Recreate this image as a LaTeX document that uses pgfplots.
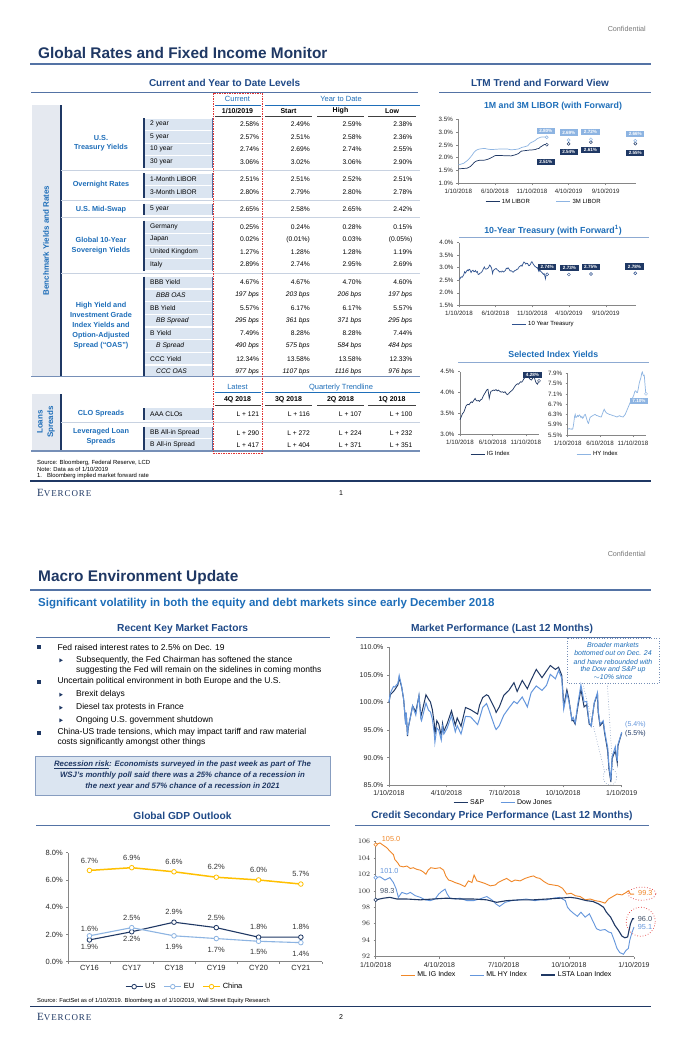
\documentclass[border=0pt]{standalone}
\usepackage{fontspec}
\setmainfont{Liberation Sans}
\newfontfamily\evfont[LetterSpace=10]{Liberation Serif}
\usepackage{pgfplots}
\pgfplotsset{compat=1.18}

\definecolor{navy}{RGB}{31,56,100}
\definecolor{hblue}{RGB}{31,73,135}
\definecolor{mblue}{RGB}{30,110,185}
\definecolor{steel}{RGB}{84,115,165}
\definecolor{lrule}{RGB}{141,170,210}
\definecolor{boxfill}{RGB}{219,229,241}
\definecolor{band}{RGB}{229,233,240}
\definecolor{sep}{RGB}{200,210,225}
\definecolor{axgray}{RGB}{134,134,134}
\definecolor{dk}{RGB}{31,56,100}
\definecolor{lt}{RGB}{141,180,226}
\definecolor{md}{RGB}{100,150,220}
\definecolor{orng}{RGB}{240,135,40}
\definecolor{gold}{RGB}{255,192,0}
\definecolor{ddash}{RGB}{225,50,50}
\definecolor{lblgray}{RGB}{68,84,106}
\definecolor{tgray}{RGB}{120,120,120}
\definecolor{ten}{RGB}{47,82,143}

\newcommand{\fs}[1]{\fontsize{#1}{#1}\selectfont}

% one table row: y, label, current, start, high, low
\newcommand{\trow}[6]{%
  \node[anchor=west] at (150,#1) {#2};
  \node[anchor=east] at (259.3,#1) {#3};
  \node[anchor=east] at (310,#1) {#4};
  \node[anchor=east] at (361.7,#1) {#5};
  \node[anchor=east] at (412.5,#1) {#6};}
\newcommand{\trowi}[6]{%
  \node[anchor=west] at (156,#1) {\itshape #2};
  \node[anchor=east] at (259.3,#1) {\itshape #3};
  \node[anchor=east] at (310,#1) {\itshape #4};
  \node[anchor=east] at (361.7,#1) {\itshape #5};
  \node[anchor=east] at (412.5,#1) {\itshape #6};}

\pgfplotsset{
  ev/.style={
    scale only axis, clip=false,
    axis lines*=left,
    axis line style={-, draw=axgray, line width=0.5pt},
    tick style={draw=axgray, line width=0.5pt},
    major tick length=2pt, tick align=outside,
    tick label style={text=black!85},
    legend style={draw=none, fill=none},
    legend cell align=left,
  },
  shortleg/.style={legend image code/.code={\draw[##1] (0pt,0pt) -- (14pt,0pt);}},
}

\begin{document}
\begin{tikzpicture}[x=1pt,y=-1pt]
\fill[white] (0,0) rectangle (680,1050);
\useasboundingbox (0,0) rectangle (680,1050);

% ================= PAGE 1 =================
\begin{scope}[every node/.style={inner sep=0pt}]
\node[anchor=east, text=tgray, font={\fs{7.2}}] at (646,29) {Confidential};
\node[anchor=west, text=navy, font={\bfseries\fs{15.4}}] at (38,52.7) {Global Rates and Fixed Income Monitor};
\draw[steel, line width=2pt] (30,64.3) -- (651,64.3);
\node[text=hblue, font={\bfseries\fs{10}}] at (224.6,83.3) {Current and Year to Date Levels};
\node[text=hblue, font={\bfseries\fs{10}}] at (540,83.3) {LTM Trend and Forward View};
\draw[steel, line width=1pt] (31,92.3) -- (418,92.3);
\draw[steel, line width=1pt] (439,92.3) -- (651,92.3);

% side bands
\fill[band] (32,105) rectangle (60,376);
\fill[band] (32,394) rectangle (60,450);
\draw[navy, line width=1.6pt] (61,105) -- (61,376);
\draw[navy, line width=1.6pt] (61,394) -- (61,450);
\node[rotate=90, text=mblue, font={\bfseries\fs{8}}] at (46,240.5) {Benchmark Yields and Rates};
\node[rotate=90, text=mblue, font={\bfseries\fs{8}}] at (40,422) {Loans};
\node[rotate=90, text=mblue, font={\bfseries\fs{8}}] at (51,422) {Spreads};

% label boxes
\foreach \y in {124.3,136.8,149.3,161.8,179.3,191.8,209.3,226.8,239.3,251.8,264.3,282.5,295.2,307.9,320.6,333.3,346,358.7,371.4,414,432.7,445}
  {\fill[boxfill] (144,\y-5.7) rectangle (212,\y+5.7);}
\foreach \a/\b in {118/168,173/198,203.5/215,220.5/270.5,276.5/375.5,408/420,426.5/451}
  {\draw[navy, line width=2pt] (144.3,\a) -- (144.3,\b);
   \draw[steel, line width=0.8pt] (212,\a) -- (212,\b);}

% separators
\foreach \y in {170.5,200.5,217.8,273.3,422.5}
  {\draw[sep, line width=0.8pt] (61,\y) -- (420,\y);}
\draw[steel!80, line width=1.5pt] (31,376.3) -- (420,376.3);
\draw[steel!80, line width=1.5pt] (31,451) -- (420,451);

% headers
\node[text=mblue, font={\fs{7.5}}] at (237.5,99) {Current};
\node[text=mblue, font={\fs{7.5}}] at (341,99) {Year to Date};
\draw[mblue, line width=0.6pt] (215,105.7) -- (260.5,105.7);
\draw[mblue, line width=0.6pt] (265,105.7) -- (420,105.7);
\begin{scope}[font={\bfseries\fs{7}}]
\node at (237.5,111) {1/10/2019};
\node at (288.5,111) {Start};
\node at (340.5,111) {High};
\node at (392,111) {Low};
\end{scope}
\foreach \a/\b in {215/260.5,265/312,317/364,368/416}
  {\draw[black!75, line width=1pt] (\a,116.7) -- (\b,116.7);}

% group labels
\begin{scope}[text=mblue, font={\bfseries\fs{7.3}}]
\node at (101,137.7) {U.S.};
\node at (101,147.7) {Treasury Yields};
\node at (101,185) {Overnight Rates};
\node at (101,209.3) {U.S. Mid-Swap};
\node at (101,240) {Global 10-Year};
\node at (101,250.3) {Sovereign Yields};
\node at (101,305.3) {High Yield and};
\node at (101,315.3) {Investment Grade};
\node at (101,325.3) {Index Yields and};
\node at (101,335.3) {Option-Adjusted};
\node at (101,345.3) {Spread (``OAS'')};
\node at (101,413.7) {CLO Spreads};
\node at (101,432) {Leveraged Loan};
\node at (101,442) {Spreads};
\end{scope}

% values
\begin{scope}[font={\fs{6.7}}]
\trow{124.3}{2 year}{2.58\%}{2.49\%}{2.59\%}{2.38\%}
\trow{136.8}{5 year}{2.57\%}{2.51\%}{2.58\%}{2.36\%}
\trow{149.3}{10 year}{2.74\%}{2.69\%}{2.74\%}{2.55\%}
\trow{161.8}{30 year}{3.06\%}{3.02\%}{3.06\%}{2.90\%}
\trow{179.3}{1-Month LIBOR}{2.51\%}{2.51\%}{2.52\%}{2.51\%}
\trow{191.8}{3-Month LIBOR}{2.80\%}{2.79\%}{2.80\%}{2.78\%}
\trow{209.3}{5 year}{2.65\%}{2.58\%}{2.65\%}{2.42\%}
\trow{226.8}{Germany}{0.25\%}{0.24\%}{0.28\%}{0.15\%}
\trow{239.3}{Japan}{0.02\%}{(0.01\%)}{0.03\%}{(0.05\%)}
\trow{251.8}{United Kingdom}{1.27\%}{1.28\%}{1.28\%}{1.19\%}
\trow{264.3}{Italy}{2.89\%}{2.74\%}{2.95\%}{2.69\%}
\trow{282.5}{BBB Yield}{4.67\%}{4.67\%}{4.70\%}{4.60\%}
\trowi{295.2}{BBB OAS}{197 bps}{203 bps}{206 bps}{197 bps}
\trow{307.9}{BB Yield}{5.57\%}{6.17\%}{6.17\%}{5.57\%}
\trowi{320.6}{BB Spread}{295 bps}{361 bps}{371 bps}{295 bps}
\trow{333.3}{B Yield}{7.49\%}{8.28\%}{8.28\%}{7.44\%}
\trowi{346}{B Spread}{490 bps}{575 bps}{584 bps}{484 bps}
\trow{358.7}{CCC Yield}{12.34\%}{13.58\%}{13.58\%}{12.33\%}
\trowi{371.4}{CCC OAS}{977 bps}{1107 bps}{1116 bps}{976 bps}
\trow{414}{AAA CLOs}{L + 121}{L + 116}{L + 107}{L + 100}
\trow{432.7}{BB All-in Spread}{L + 290}{L + 272}{L + 224}{L + 232}
\trow{445}{B All-in Spread}{L + 417}{L + 404}{L + 371}{L + 351}
\end{scope}

% loans headers
\node[text=mblue, font={\fs{7.5}}] at (237.5,387.3) {Latest};
\node[text=mblue, font={\fs{7.5}}] at (341,387.3) {Quarterly Trendline};
\draw[mblue, line width=0.6pt] (215,392) -- (260.5,392);
\draw[mblue, line width=0.6pt] (265,392) -- (420,392);
\begin{scope}[font={\bfseries\fs{7}}]
\node at (237.5,400) {4Q 2018};
\node at (288.5,400) {3Q 2018};
\node at (340.5,400) {2Q 2018};
\node at (392,400) {1Q 2018};
\end{scope}
\foreach \a/\b in {215/260.5,265/312,317/364,368/416}
  {\draw[black!75, line width=1pt] (\a,405.3) -- (\b,405.3);}

% red dashed column box
\draw[ddash, line width=0.6pt, dash pattern=on 1.5pt off 1pt] (213,93.3) rectangle (262,453.3);

% sources
\begin{scope}[font={\fs{5.9}}]
\node[anchor=west] at (37,463.3) {Source: Bloomberg, Federal Reserve, LCD};
\node[anchor=west] at (37,469.5) {Note: Data as of 1/10/2019};
\node[anchor=west] at (37,475.7) {1.};
\node[anchor=west] at (47,475.7) {Bloomberg implied market forward rate};
\end{scope}
\draw[navy, line width=1.5pt] (30,481) -- (651,481);
\node[anchor=west, text=navy] at (37,493.3) {\evfont\fs{11}E\fs{9}VERCORE};
\node[font={\fs{7}}] at (341,493.3) {1};

% chart titles
\node[text=mblue, font={\bfseries\fs{8.8}}] at (553,106.7) {1M and 3M LIBOR (with Forward)};
\node[text=mblue, font={\bfseries\fs{8.8}}] at (553,230) {10-Year Treasury (with Forward\textsuperscript{1})};
\draw[lrule, line width=1pt] (459,237.7) -- (649,237.7);
\node[text=mblue, font={\bfseries\fs{8.8}}] at (553.3,354.3) {Selected Index Yields};
\draw[lrule, line width=1pt] (458,362.3) -- (649,362.3);
\end{scope}

% ---------- LIBOR chart ----------
\begin{axis}[ev, shortleg, at={(458.3pt,-183.3pt)}, anchor=south west, width=177.7pt, height=64pt,
  xmin=0, xmax=733, ymin=1, ymax=3.5,
  xtick={0,151,304,455,608}, xticklabels={1/10/2018,6/10/2018,11/10/2018,4/10/2019,9/10/2019},
  ytick={1,1.5,2,2.5,3,3.5}, yticklabels={1.0\%,1.5\%,2.0\%,2.5\%,3.0\%,3.5\%},
  tick label style={font={\fs{6.2}}},
  legend style={at={(0.482,-0.2875)}, anchor=center, font={\fs{6}}, legend columns=2,
    /tikz/every even column/.append style={column sep=24pt}},
]
\addplot[dk, line width=0.7pt] coordinates {(0,1.56)(8,1.57)(22,1.58)(36,1.59)(43,1.62)(50,1.66)(57,1.72)(64,1.80)(71,1.85)(78,1.88)(88,1.90)(95,1.90)(104,1.90)(111,1.91)(118,1.93)(125,1.95)(132,1.98)(142,2.03)(149,2.07)(156,2.09)(165,2.09)(172,2.09)(186,2.08)(203,2.08)(217,2.07)(234,2.11)(248,2.16)(255,2.22)(261,2.26)(270,2.27)(278,2.28)(287,2.29)(295,2.30)(302,2.30)(309,2.31)(318,2.32)(325,2.35)(332,2.36)(339,2.42)(346,2.46)(352,2.50)(358,2.52)(365,2.51)};
\addplot[lt, line width=0.7pt] coordinates {(0,1.72)(8,1.74)(15,1.76)(22,1.78)(29,1.83)(36,1.88)(43,1.94)(50,2.02)(57,2.10)(64,2.20)(71,2.27)(78,2.31)(88,2.34)(95,2.35)(104,2.36)(111,2.36)(118,2.34)(125,2.33)(135,2.32)(142,2.32)(156,2.33)(172,2.34)(186,2.34)(203,2.34)(217,2.31)(234,2.32)(248,2.34)(255,2.37)(261,2.40)(270,2.42)(278,2.44)(287,2.47)(295,2.56)(302,2.60)(309,2.63)(318,2.68)(325,2.74)(332,2.77)(339,2.80)(346,2.81)(355,2.81)(365,2.80)};
\legend{1M LIBOR,3M LIBOR}
\addplot[forget plot, only marks, mark=*, mark size=1.5pt, mark options={draw=dk, fill=white, line width=0.5pt}] coordinates {(365,2.51)(455,2.54)(547,2.61)(730,2.55)};
\addplot[forget plot, only marks, mark=*, mark size=1.5pt, mark options={draw=lt, fill=white, line width=0.5pt}] coordinates {(365,2.80)(455,2.69)(547,2.72)(730,2.66)};
\end{axis}

% ---------- 10Y chart ----------
\begin{axis}[ev, shortleg, at={(459pt,-305.3pt)}, anchor=south west, width=177pt, height=62.6pt,
  xmin=0, xmax=733, ymin=1.5, ymax=4,
  xtick={0,151,304,455,608}, xticklabels={1/10/2018,6/10/2018,11/10/2018,4/10/2019,9/10/2019},
  ytick={1.5,2,2.5,3,3.5,4}, yticklabels={1.5\%,2.0\%,2.5\%,3.0\%,3.5\%,4.0\%},
  tick label style={font={\fs{6.2}}},
  legend style={at={(0.478,-0.299)}, anchor=center, font={\fs{6}}},
]
\addplot[ten, line width=0.7pt] coordinates {(0,2.55)(3,2.54)(6,2.59)(9,2.64)(13,2.62)(16,2.66)(20,2.73)(23,2.84)(27,2.79)(30,2.85)(35,2.91)(38,2.88)(42,2.94)(45,2.92)(50,2.81)(54,2.88)(58,2.90)(62,2.84)(65,2.85)(68,2.89)(72,2.82)(76,2.85)(79,2.74)(82,2.73)(86,2.78)(90,2.79)(93,2.82)(97,2.87)(101,2.96)(105,3.03)(109,2.95)(114,2.95)(118,2.97)(122,3.00)(127,3.11)(131,3.06)(135,2.98)(139,2.77)(142,2.89)(146,2.93)(151,2.96)(154,2.97)(158,2.92)(163,2.89)(167,2.83)(170,2.85)(175,2.83)(179,2.87)(184,2.83)(188,2.86)(192,2.89)(196,2.98)(200,2.96)(203,3.00)(207,2.95)(212,2.87)(216,2.88)(219,2.86)(224,2.82)(228,2.86)(231,2.89)(236,2.90)(240,2.94)(243,2.94)(247,3.00)(250,3.05)(254,3.07)(258,3.10)(261,3.06)(265,3.16)(269,3.23)(272,3.21)(276,3.15)(280,3.18)(284,3.17)(289,3.08)(292,3.09)(296,3.14)(299,3.21)(302,3.24)(306,3.17)(310,3.11)(314,3.06)(317,3.04)(321,3.00)(324,3.01)(328,2.92)(331,2.85)(335,2.91)(338,2.86)(342,2.82)(345,2.79)(349,2.74)(352,2.77)(355,2.69)(358,2.56)(360,2.67)(363,2.73)(365,2.74)};
\legend{10 Year Treasury}
\addplot[forget plot, only marks, mark=*, mark size=1.5pt, mark options={draw=ten, fill=white, line width=0.5pt}] coordinates {(365,2.74)(455,2.73)(547,2.75)(730,2.78)};
\end{axis}

% ---------- IG chart ----------
\begin{axis}[ev, shortleg, at={(460pt,-434.3pt)}, anchor=south west, width=79pt, height=62.6pt,
  xmin=0, xmax=365, ymin=3, ymax=4.5,
  xtick={0,151,304}, xticklabels={1/10/2018,6/10/2018,11/10/2018},
  ytick={3,3.5,4,4.5}, yticklabels={3.0\%,3.5\%,4.0\%,4.5\%},
  tick label style={font={\fs{6.2}}},
  legend style={at={(0.392,-0.315)}, anchor=center, font={\fs{6}}},
]
\addplot[dk, line width=0.7pt] coordinates {(0,3.35)(4,3.40)(8,3.45)(12,3.50)(16,3.52)(19,3.55)(24,3.62)(28,3.68)(31,3.70)(36,3.72)(42,3.71)(46,3.74)(52,3.78)(57,3.76)(62,3.80)(66,3.83)(70,3.86)(74,3.82)(79,3.80)(85,3.81)(90,3.79)(96,3.83)(101,3.84)(106,3.90)(112,3.96)(117,4.00)(121,4.04)(125,4.07)(129,4.08)(132,3.98)(135,3.86)(139,3.96)(143,4.03)(148,4.04)(154,4.06)(160,4.05)(166,4.07)(172,4.04)(178,4.06)(184,4.03)(190,4.01)(196,4.02)(202,4.00)(208,4.02)(213,3.98)(218,3.95)(224,3.97)(229,4.00)(235,4.03)(240,4.05)(245,4.08)(250,4.12)(255,4.16)(260,4.19)(265,4.21)(270,4.20)(275,4.23)(280,4.26)(285,4.25)(290,4.28)(295,4.33)(300,4.36)(305,4.40)(310,4.45)(314,4.40)(318,4.36)(322,4.33)(326,4.31)(330,4.30)(334,4.33)(338,4.36)(342,4.38)(346,4.32)(350,4.25)(354,4.22)(358,4.20)(361,4.24)(365,4.28)};
\legend{IG Index}
\addplot[forget plot, only marks, mark=*, mark size=1.5pt, mark options={draw=dk, fill=white, line width=0.5pt}] coordinates {(365,4.28)};
\end{axis}

% ---------- HY chart ----------
\begin{axis}[ev, shortleg, at={(567.7pt,-435pt)}, anchor=south west, width=78.3pt, height=61.7pt,
  xmin=0, xmax=365, ymin=5.5, ymax=7.9,
  xtick={0,151,304}, xticklabels={1/10/2018,6/10/2018,11/10/2018},
  ytick={5.5,5.9,6.3,6.7,7.1,7.5,7.9}, yticklabels={5.5\%,5.9\%,6.3\%,6.7\%,7.1\%,7.5\%,7.9\%},
  tick label style={font={\fs{6.2}}},
  legend style={at={(0.387,-0.308)}, anchor=center, font={\fs{6}}},
]
\addplot[lt, line width=0.7pt] coordinates {(0,5.72)(4,5.74)(8,5.75)(12,5.73)(16,5.74)(20,5.72)(24,5.75)(28,5.95)(32,6.22)(35,6.30)(38,6.18)(42,6.20)(46,6.26)(50,6.22)(54,6.28)(58,6.25)(62,6.18)(66,6.22)(70,6.15)(74,6.20)(78,6.28)(82,6.30)(86,6.20)(90,6.08)(94,5.98)(97,5.95)(100,6.05)(104,6.18)(110,6.22)(116,6.25)(122,6.28)(128,6.30)(134,6.26)(140,6.25)(146,6.22)(152,6.21)(156,6.20)(160,6.28)(165,6.40)(170,6.50)(174,6.44)(178,6.38)(182,6.35)(188,6.33)(194,6.30)(200,6.29)(206,6.27)(212,6.25)(218,6.24)(224,6.22)(230,6.20)(236,6.23)(242,6.25)(248,6.22)(254,6.21)(258,6.20)(263,6.25)(268,6.30)(273,6.40)(278,6.50)(283,6.60)(288,6.70)(293,6.80)(298,6.90)(303,6.95)(308,7.05)(313,7.20)(317,7.22)(321,7.16)(325,7.15)(329,7.30)(333,7.50)(337,7.62)(341,7.72)(345,7.90)(348,7.95)(351,7.85)(354,7.80)(357,7.82)(360,7.50)(363,7.20)(365,7.10)};
\legend{HY Index}
\addplot[forget plot, only marks, mark=*, mark size=1.5pt, mark options={draw=lt, fill=white, line width=0.5pt}] coordinates {(365,7.10)};
\end{axis}

% value boxes on the LTM charts
\begin{scope}[every node/.style={inner sep=0pt, minimum width=18.3pt, minimum height=6.3pt, text=white, font={\bfseries\fs{4.6}}}]
\node[fill=lt] at (545.8,130.8) {2.80\%};
\node[fill=lt] at (568.8,132.5) {2.69\%};
\node[fill=lt] at (590.5,131.7) {2.72\%};
\node[fill=lt] at (635.3,133.7) {2.66\%};
\node[fill=dk] at (545.8,161.7) {2.51\%};
\node[fill=dk] at (568.8,152.2) {2.54\%};
\node[fill=dk] at (590.5,150.3) {2.61\%};
\node[fill=dk] at (635.3,152.7) {2.55\%};
\node[fill=dk] at (547.2,267.2) {2.74\%};
\node[fill=dk] at (569.5,267.8) {2.73\%};
\node[fill=dk] at (590.7,267.3) {2.75\%};
\node[fill=dk] at (634.5,266.5) {2.78\%};
\node[fill=dk] at (532.5,375.3) {4.28\%};
\node[fill=lt] at (639,400.7) {7.10\%};
\end{scope}

% ================= PAGE 2 =================
\begin{scope}[every node/.style={inner sep=0pt}]
\node[anchor=east, text=tgray, font={\fs{7.2}}] at (646,554) {Confidential};
\node[anchor=west, text=navy, font={\bfseries\fs{15.4}}] at (38,577.7) {Macro Environment Update};
\draw[steel, line width=2pt] (30,590) -- (651,590);
\node[anchor=west, text=mblue, font={\bfseries\fs{11.5}}] at (38,603.3) {Significant volatility in both the equity and debt markets since early December 2018};
\node[text=hblue, font={\bfseries\fs{10.2}}] at (182.7,629.3) {Recent Key Market Factors};
\node[text=hblue, font={\bfseries\fs{10.2}}] at (502,629.3) {Market Performance (Last 12 Months)};
\draw[steel, line width=1pt] (36,637.5) -- (330,637.5);
\draw[steel, line width=1pt] (356,637.5) -- (651,637.5);

% bullets
\foreach \y in {647.3,681.7,732.7}
  {\fill[navy] (37.3,\y-2) rectangle (41.3,\y+2);}
\foreach \y in {660.3,694.7,707.7,720.3}
  {\fill[navy] (59.3,\y-2) -- (62.8,\y) -- (59.3,\y+2) -- cycle;}
\begin{scope}[font={\fs{8.5}}]
\node[anchor=west] at (57.3,647.3) {Fed raised interest rates to 2.5\% on Dec. 19};
\node[anchor=west] at (76,660.3) {Subsequently, the Fed Chairman has softened the stance};
\node[anchor=west] at (76,670) {suggesting the Fed will remain on the sidelines in coming months};
\node[anchor=west] at (57.3,681.7) {Uncertain political environment in both Europe and the U.S.};
\node[anchor=west] at (76,694.7) {Brexit delays};
\node[anchor=west] at (76,707.7) {Diesel tax protests in France};
\node[anchor=west] at (76,720.3) {Ongoing U.S. government shutdown};
\node[anchor=west] at (57.3,732.7) {China-US trade tensions, which may impact tariff and raw material};
\node[anchor=west] at (57.3,742.3) {costs significantly amongst other things};
\end{scope}

% recession box
\fill[boxfill] (35,756) rectangle (330,795);
\draw[steel!70, line width=0.6pt] (35,756) rectangle (330,795);
\begin{scope}[text=navy, font={\bfseries\itshape\fs{7.8}}]
\node at (182.5,764.5) {\underline{Recession risk}: Economists surveyed in the past week as part of The};
\node at (182.5,775.5) {WSJ's monthly poll said there was a 25\% chance of a recession in};
\node at (182.5,786.5) {the next year and 57\% chance of a recession in 2021};
\end{scope}

% annotation in market chart
\draw[steel!80, line width=0.6pt, dotted] (567,638) rectangle (659,683.3);
\begin{scope}[text=mblue, font={\itshape\fs{7}}]
\node at (613,645) {Broader markets};
\node at (613,653.3) {bottomed out on Dec. 24};
\node at (613,661.6) {and have rebounded with};
\node at (613,669.5) {the Dow and S\&P up};
\node at (613,677.4) {$\sim$10\% since};
\end{scope}
\draw[steel!80, line width=0.6pt, dotted] (582.7,683.3) -- (605,773.3);
\draw[steel!80, line width=0.6pt, dotted] (607.3,683.3) -- (612.7,769.3);
\draw[steel!80, line width=0.6pt, dotted] (610,776.7) ellipse (6.7pt and 8.5pt);
\node[anchor=west, text=md, font={\fs{7}}] at (625,725) {(5.4\%)};
\node[anchor=west, text=dk, font={\fs{7}}] at (625,733.3) {(5.5\%)};

\node[text=hblue, font={\bfseries\fs{10.2}}] at (182.5,816) {Global GDP Outlook};
\node[text=hblue, font={\bfseries\fs{10.2}}] at (502,816) {Credit Secondary Price Performance (Last 12 Months)};
\draw[steel, line width=1pt] (36,825) -- (330,825);
\draw[steel, line width=1pt] (355,825) -- (649,825);

\node[anchor=west, font={\fs{5.8}}] at (37,1000.7) {Source: FactSet as of 1/10/2019. Bloomberg as of 1/10/2019, Wall Street Equity Research};
\draw[navy, line width=1.5pt] (30,1006.5) -- (651,1006.5);
\node[anchor=west, text=navy] at (37,1017) {\evfont\fs{11}E\fs{9}VERCORE};
\node[font={\fs{7}}] at (341,1017) {2};

% credit labels
\begin{scope}[font={\fs{7.3}}]
\node[anchor=west, text=orng] at (381.7,839.3) {105.0};
\node[anchor=west, text=md] at (380,871) {101.0};
\node[anchor=west, text=lblgray] at (380,891) {98.3};
\node[anchor=west, text=orng] at (638,893.3) {99.3};
\node[anchor=west, text=lblgray] at (637.7,919) {96.0};
\node[anchor=west, text=md] at (637.7,926.7) {95.1};
\end{scope}
\draw[ddash, line width=0.7pt, dotted] (642,893.7) ellipse (14pt and 6.5pt);
\draw[ddash, line width=0.7pt, dotted] (640.7,921.7) ellipse (14.5pt and 14.5pt);
\end{scope}

% ---------- Market performance ----------
\begin{axis}[ev, shortleg, at={(389pt,-785.3pt)}, anchor=south west, width=232.7pt, height=138pt,
  xmin=0, xmax=365, ymin=85, ymax=110,
  xtick={0,90,181,273,365}, xticklabels={1/10/2018,4/10/2018,7/10/2018,10/10/2018,1/10/2019},
  ytick={85,90,95,100,105,110}, yticklabels={85.0\%,90.0\%,95.0\%,100.0\%,105.0\%,110.0\%},
  tick label style={font={\fs{7}}},
  legend style={at={(0.492,-0.128)}, anchor=center, font={\fs{7}}, legend columns=2,
    /tikz/every even column/.append style={column sep=14pt}},
]
\addplot[dk, line width=1pt] coordinates {(0,100.0)(2,101.4)(7,102.0)(9,102.3)(14,103.2)(16,104.5)(20,102.7)(23,100.5)(26,96.4)(27,98.1)(29,93.9)(30,95.3)(35,98.2)(37,99.4)(42,98.3)(47,101.2)(50,97.5)(51,97.9)(58,101.4)(62,100.6)(65,100.1)(68,98.7)(71,96.2)(72,94.2)(75,96.7)(78,96.1)(82,94.0)(84,96.2)(86,94.8)(91,96.1)(98,98.5)(104,95.9)(107,97.2)(113,95.7)(120,99.1)(128,98.7)(139,97.9)(142,99.5)(147,100.9)(153,101.4)(156,101.2)(166,98.9)(168,98.2)(173,99.2)(180,101.3)(188,102.2)(196,103.6)(201,102.0)(209,104.0)(217,102.5)(223,104.1)(231,106.0)(240,104.5)(247,105.7)(253,106.7)(261,106.0)(266,106.4)(271,104.9)(273,101.4)(274,99.3)(279,102.3)(282,100.7)(287,96.7)(289,96.8)(292,96.1)(296,99.1)(301,102.4)(306,99.2)(310,99.6)(314,96.1)(317,95.8)(322,99.9)(327,101.5)(328,98.3)(331,95.8)(336,96.5)(338,94.6)(341,92.6)(343,91.2)(345,88.0)(348,85.6)(350,89.8)(352,90.5)(355,91.2)(358,89.1)(359,92.1)(363,93.7)(365,94.5)};
\addplot[md, line width=1pt] coordinates {(0,100.0)(2,101.7)(7,102.9)(9,102.8)(14,103.5)(16,104.9)(20,102.8)(23,100.6)(26,96.0)(27,98.2)(29,94.1)(30,95.4)(35,98.1)(37,99.4)(42,97.7)(47,101.3)(50,97.0)(51,96.7)(58,99.9)(62,98.6)(65,98.3)(68,97.0)(71,94.4)(72,92.8)(75,95.4)(78,95.0)(82,93.2)(84,95.6)(86,94.3)(91,95.3)(98,97.6)(104,94.7)(107,95.8)(113,94.3)(120,97.5)(128,97.4)(139,96.0)(142,97.1)(147,99.1)(153,99.8)(156,98.9)(166,95.6)(168,95.1)(173,95.8)(180,97.7)(188,99.0)(196,100.2)(201,99.8)(209,101.0)(217,99.2)(223,101.8)(231,103.0)(240,102.2)(247,103.1)(253,105.1)(261,104.3)(266,105.8)(271,104.4)(273,100.9)(274,98.8)(279,101.7)(282,100.3)(287,96.9)(289,97.3)(292,96.3)(296,99.6)(301,103.2)(306,100.1)(310,100.2)(314,96.4)(317,95.7)(322,100.0)(327,101.8)(328,98.7)(331,96.1)(336,96.7)(338,95.0)(341,93.0)(343,91.9)(345,88.5)(348,85.9)(350,90.2)(352,90.9)(355,92.0)(358,89.4)(359,92.4)(363,93.8)(365,94.6)};
\legend{S\&P,Dow Jones}
\end{axis}

% ---------- GDP ----------
\begin{axis}[ev, at={(68.3pt,-961.7pt)}, anchor=south west, width=253.7pt, height=109pt,
  xmin=-0.5, xmax=5.5, ymin=0, ymax=8,
  xtick={-0.5,0.5,1.5,2.5,3.5,4.5,5.5}, xticklabels={},
  extra x ticks={0,1,2,3,4,5}, extra x tick labels={CY16,CY17,CY18,CY19,CY20,CY21},
  extra x tick style={major tick length=0pt},
  ytick={0,2,4,6,8}, yticklabels={0.0\%,2.0\%,4.0\%,6.0\%,8.0\%},
  tick label style={font={\fs{7.5}}},
  legend style={at={(0.459,-0.229)}, anchor=center, font={\fs{7.5}}, legend columns=3,
    /tikz/every even column/.append style={column sep=6pt}},
]
\addplot[dk, line width=1.1pt, mark=*, mark size=2.3pt, mark options={fill=white, line width=0.8pt}] coordinates {(0,1.6)(1,2.2)(2,2.9)(3,2.5)(4,1.8)(5,1.8)};
\addplot[lt, line width=1.1pt, mark=*, mark size=2.3pt, mark options={fill=white, line width=0.8pt}] coordinates {(0,1.9)(1,2.5)(2,1.9)(3,1.7)(4,1.5)(5,1.4)};
\addplot[gold, line width=1.5pt, mark=*, mark size=2.3pt, mark options={fill=white, line width=0.8pt}] coordinates {(0,6.7)(1,6.9)(2,6.6)(3,6.2)(4,6.0)(5,5.7)};
\legend{US,EU,China}
\begin{scope}[every node/.style={font={\fs{7.5}}, text=black!80, inner sep=0pt}]
\node[yshift=10pt] at (axis cs:0,6.7) {6.7\%};
\node[yshift=10pt] at (axis cs:1,6.9) {6.9\%};
\node[yshift=10pt] at (axis cs:2,6.6) {6.6\%};
\node[yshift=10pt] at (axis cs:3,6.2) {6.2\%};
\node[yshift=10pt] at (axis cs:4,6.0) {6.0\%};
\node[yshift=10pt] at (axis cs:5,5.7) {5.7\%};
\node[yshift=11pt] at (axis cs:0,1.6) {1.6\%};
\node[yshift=-7pt] at (axis cs:1,2.2) {2.2\%};
\node[yshift=10.5pt] at (axis cs:2,2.9) {2.9\%};
\node[yshift=10pt] at (axis cs:3,2.5) {2.5\%};
\node[yshift=10pt] at (axis cs:4,1.8) {1.8\%};
\node[yshift=10pt] at (axis cs:5,1.8) {1.8\%};
\node[yshift=-11pt] at (axis cs:0,1.9) {1.9\%};
\node[yshift=10pt] at (axis cs:1,2.5) {2.5\%};
\node[yshift=-10.7pt] at (axis cs:2,1.9) {1.9\%};
\node[yshift=-11pt] at (axis cs:3,1.7) {1.7\%};
\node[yshift=-11pt] at (axis cs:4,1.5) {1.5\%};
\node[yshift=-11pt] at (axis cs:5,1.4) {1.4\%};
\end{scope}
\end{axis}

% ---------- Credit secondary ----------
\begin{axis}[ev, shortleg, at={(375.7pt,-956.7pt)}, anchor=south west, width=258.3pt, height=115.4pt,
  xmin=0, xmax=365, ymin=92, ymax=106,
  xtick={0,90,181,273,365}, xticklabels={1/10/2018,4/10/2018,7/10/2018,10/10/2018,1/10/2019},
  ytick={92,94,...,106},
  tick label style={font={\fs{7}}},
  legend style={at={(0.508,-0.1586)}, anchor=center, font={\fs{7}}, legend columns=3,
    /tikz/every even column/.append style={column sep=12pt}},
]
\addplot[orng, line width=0.9pt] coordinates {(0,105.6)(6,105.8)(11,105.5)(16,105.2)(20,104.8)(25,104.4)(27,103.8)(31,103.4)(34,103.0)(39,102.9)(44,103.0)(49,102.7)(53,102.8)(58,102.6)(63,102.5)(67,102.3)(71,102.0)(74,102.5)(78,102.8)(84,102.7)(91,102.8)(96,102.5)(99,101.8)(103,101.3)(107,101.2)(112,101.0)(119,100.8)(126,100.5)(131,101.2)(136,101.0)(139,101.9)(143,101.2)(147,101.1)(154,100.9)(162,100.6)(169,100.7)(173,101.0)(180,101.3)(185,101.5)(192,101.1)(197,101.3)(204,101.2)(211,101.5)(218,101.7)(223,101.8)(227,101.6)(232,101.5)(238,101.1)(244,100.8)(251,100.7)(258,100.6)(264,100.3)(270,99.6)(276,99.7)(282,99.4)(289,99.3)(296,98.9)(303,99.0)(310,98.8)(317,98.7)(324,98.5)(329,99.0)(333,99.2)(341,99.6)(348,99.5)(354,99.8)(357,100.0)(360,99.6)(365,99.6)};
\addplot[md, line width=0.9pt] coordinates {(0,101.6)(6,101.7)(13,101.3)(20,101.6)(25,101.0)(29,100.2)(32,99.2)(37,99.8)(44,99.6)(49,99.8)(56,99.4)(63,99.2)(70,98.9)(77,98.8)(84,99.0)(89,99.6)(93,99.9)(98,100.2)(101,99.6)(105,99.1)(112,99.0)(119,99.1)(129,98.8)(138,98.8)(147,99.0)(157,99.3)(164,98.9)(170,98.4)(175,98.1)(183,98.6)(192,98.8)(204,98.9)(213,99.0)(225,98.8)(232,98.9)(242,98.9)(251,99.1)(260,99.2)(268,98.8)(271,98.0)(275,97.6)(279,97.3)(285,96.9)(290,97.4)(296,96.8)(302,97.2)(307,96.3)(312,95.4)(317,95.2)(324,95.3)(329,95.0)(333,94.9)(337,94.0)(341,93.0)(345,92.5)(350,92.3)(354,92.8)(357,93.0)(359,94.0)(362,94.9)(365,95.6)};
\addplot[dk, line width=1.1pt] coordinates {(0,98.9)(11,99.1)(20,99.2)(30,99.0)(44,99.0)(63,98.9)(81,99.0)(100,99.1)(119,99.0)(138,99.0)(157,98.9)(171,98.6)(185,98.8)(204,98.9)(223,98.9)(242,99.0)(260,99.1)(275,99.2)(284,99.1)(298,98.8)(307,98.7)(315,98.4)(322,98.0)(326,97.4)(332,96.8)(338,95.8)(343,95.2)(348,94.5)(352,94.3)(356,94.4)(358,95.2)(360,96.0)(363,96.6)(365,96.6)};
\legend{ML IG Index,ML HY Index,LSTA Loan Index}
\addplot[forget plot, only marks, mark=*, mark size=1.8pt, mark options={draw=orng, fill=white, line width=0.6pt}] coordinates {(0,105.6)};
\addplot[forget plot, only marks, mark=*, mark size=1.8pt, mark options={draw=md, fill=white, line width=0.6pt}] coordinates {(0,101.6)};
\addplot[forget plot, only marks, mark=*, mark size=1.8pt, mark options={draw=dk, fill=white, line width=0.6pt}] coordinates {(0,98.9)};
\end{axis}

\end{tikzpicture}
\end{document}
